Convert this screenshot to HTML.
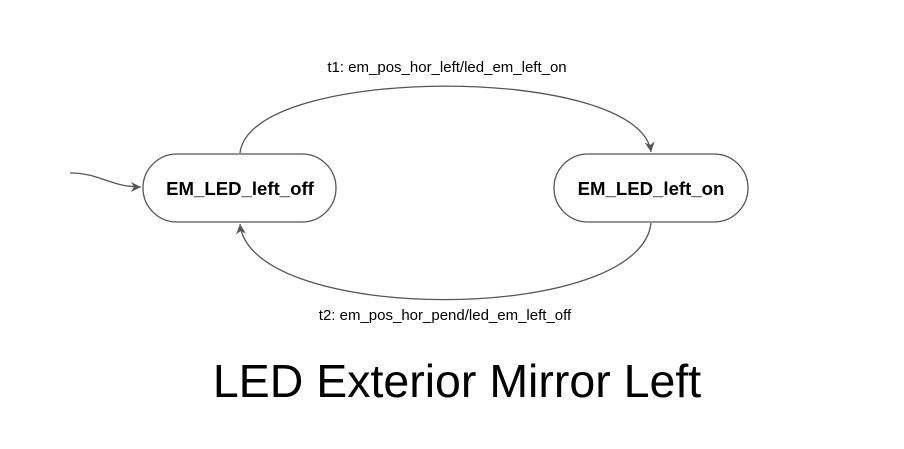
<!DOCTYPE html>
<html><head><style>
body{margin:0;background:#fff;width:904px;height:449px;overflow:hidden}
svg{display:block}
</style></head><body>
<svg width="904" height="449" viewBox="0 0 904 449" xmlns="http://www.w3.org/2000/svg">
<defs><marker id="a" markerWidth="12" markerHeight="10" refX="10" refY="5" orient="auto" markerUnits="userSpaceOnUse">
<path d="M0,0 L10,5 L0,10 L3,5 Z" fill="#555"/></marker></defs>
<g fill="none" stroke="#555" stroke-width="1.3">
<rect x="143" y="154" width="193" height="68" rx="34" fill="#fff"/>
<rect x="554" y="154" width="194" height="68" rx="34" fill="#fff"/>
<path d="M70,173 C100,173 110,187 141,187" marker-end="url(#a)"/>
<path d="M240,153 C250,64 640,64 651,152" marker-end="url(#a)"/>
<path d="M651,223 C640,325 250,325 240,224" marker-end="url(#a)"/>
</g>
<g font-family="Liberation Sans, sans-serif" text-anchor="middle">
<text x="240" y="195" font-size="18.6" font-weight="bold">EM_LED_left_off</text>
<text x="651" y="195" font-size="18.6" font-weight="bold">EM_LED_left_on</text>
<text x="447" y="72" font-size="15">t1: em_pos_hor_left/led_em_left_on</text>
<text x="445" y="320" font-size="15">t2: em_pos_hor_pend/led_em_left_off</text>
<text x="457" y="397" font-size="46.5">LED Exterior Mirror Left</text>
</g>
</svg>
</body></html>
